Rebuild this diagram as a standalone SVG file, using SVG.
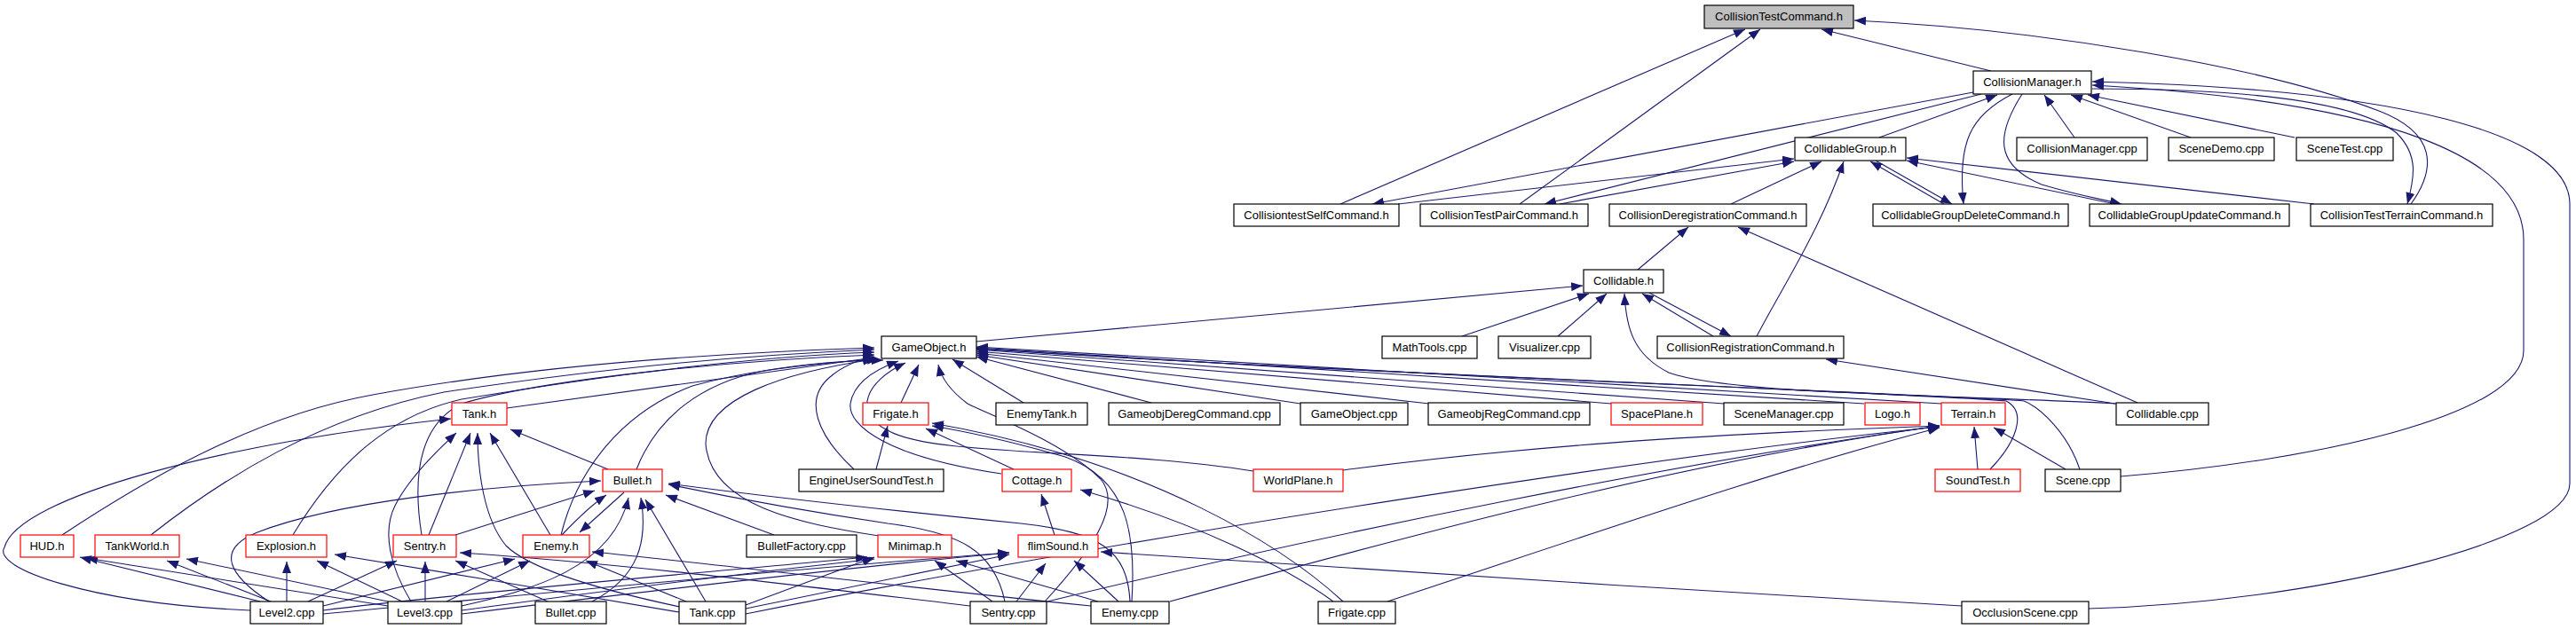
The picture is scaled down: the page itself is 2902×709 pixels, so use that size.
<svg xmlns="http://www.w3.org/2000/svg" width="2902" height="709" viewBox="0 0 2902 709">
<defs>
<marker id="a" viewBox="0 0 10 10" refX="10" refY="5" markerWidth="13" markerHeight="10" markerUnits="userSpaceOnUse" orient="auto" preserveAspectRatio="none"><path d="M0,0 L10,5 L0,10 z" fill="#191970"/></marker>
</defs>
<style>
.n rect{fill:#fff;stroke:#000;stroke-width:1.2}
.r rect{fill:#fff;stroke:#ff0000;stroke-width:1.2}
.g rect{fill:#bfbfbf;stroke:#000;stroke-width:1.2}
text{font-family:"Liberation Sans",Arial,sans-serif;font-size:13px;fill:#000;text-anchor:middle}
#edges path{fill:none;stroke:#191970;stroke-width:1.1;marker-end:url(#a)}
</style>
<rect width="2902" height="709" fill="#fff"/>
<g id="edges">
<path d="M1510,230 L1966,33"/>
<path d="M1712,230 L1983,33"/>
<path d="M2243,80 L2052,33"/>
<path d="M2716,230 C2745,190 2745,150 2680,125 C2550,75 2300,33 2089,23"/>
<path d="M2117,155 L2250,107"/>
<path d="M2337,155 L2303,107"/>
<path d="M2468,155 L2333,107"/>
<path d="M2585,155 L2352,107"/>
<path d="M2389,537 C2600,520 2843,470 2843,395 L2843,270 C2843,180 2700,115 2357,96"/>
<path d="M2353,686 C2600,680 2895,610 2895,545 L2895,230 C2895,150 2700,100 2357,92"/>
<path d="M2357,100 C2550,100 2660,118 2700,150 C2725,175 2720,200 2712,230"/>
<path d="M2223,104 L1546,230"/>
<path d="M2232,106 L1740,230"/>
<path d="M1575,230 L2021,179"/>
<path d="M1757,230 L2021,182"/>
<path d="M1950,230 L2052,182"/>
<path d="M1979,379 C2010,320 2050,260 2077,182"/>
<path d="M2190,230 L2107,182"/>
<path d="M2113,181 L2199,230"/>
<path d="M2267,106 C2220,130 2205,160 2212,230"/>
<path d="M2383,230 L2148,181"/>
<path d="M2607,230 L2148,178"/>
<path d="M2278,106 C2250,150 2245,185 2300,208 C2340,220 2370,225 2390,230"/>
<path d="M1845,304 L1902,256"/>
<path d="M2408,454 L1958,256"/>
<path d="M1100,385 L1783,322"/>
<path d="M1647,379 L1790,331"/>
<path d="M1755,379 L1810,331"/>
<path d="M2384,455 C2200,445 1950,445 1880,420 C1840,400 1832,370 1830,331"/>
<path d="M1930,379 L1850,331"/>
<path d="M1858,330 L1950,379"/>
<path d="M2383,455 L2057,405"/>
<path d="M1153,454 L1073,405"/>
<path d="M1297,454 L1100,402"/>
<path d="M1465,455 L1100,400"/>
<path d="M1610,455 L1100,398"/>
<path d="M1815,455 L1100,396"/>
<path d="M1942,455 L1100,394"/>
<path d="M2100,455 L1100,392"/>
<path d="M2187,455 L1100,391"/>
<path d="M2242,529 C2270,500 2285,465 2260,452 C2200,445 1500,420 1100,393"/>
<path d="M2343,529 C2330,490 2300,460 2280,452 C2200,445 1500,420 1100,393"/>
<path d="M70,603 C150,550 280,470 420,445 C600,412 800,398 985,392"/>
<path d="M170,603 C250,540 360,470 500,442 C700,412 850,400 985,394"/>
<path d="M330,603 C380,520 440,468 520,450 C700,420 850,402 985,397"/>
<path d="M475,603 C465,540 470,480 520,455 C620,425 850,405 985,400"/>
<path d="M571,460 L985,403"/>
<path d="M632,603 C650,530 700,465 780,435 C850,415 940,408 990,405"/>
<path d="M717,529 C740,470 790,432 860,418 C920,408 960,406 995,406"/>
<path d="M282,688 C100,680 -10,640 5,617 C20,560 250,500 508,472"/>
<path d="M1128,534 C1000,515 955,480 958,455 C962,430 990,415 1012,407"/>
<path d="M962,529 C920,490 905,450 935,425 C950,412 970,405 985,402"/>
<path d="M987,529 L1000,480"/>
<path d="M1015,454 L1035,411"/>
<path d="M1177,678 C1230,620 1265,570 1240,540 C1200,500 1120,470 1090,455 C1070,440 1060,425 1057,411"/>
<path d="M1412,531 C1250,505 1050,515 1000,485 C960,465 975,430 1020,409"/>
<path d="M990,604 C900,590 800,570 795,500 C795,450 880,420 985,405"/>
<path d="M483,603 L530,488"/>
<path d="M766,684 C700,670 600,645 570,615 C545,585 538,530 538,488"/>
<path d="M620,603 L552,488"/>
<path d="M685,529 L575,484"/>
<path d="M463,678 C440,640 430,600 445,570 C460,540 490,510 514,488"/>
<path d="M303,678 C260,650 240,620 290,600 C380,565 550,548 677,542"/>
<path d="M513,603 L670,553"/>
<path d="M633,603 C650,585 665,570 683,558"/>
<path d="M703,555 L653,600"/>
<path d="M520,683 C600,665 690,640 708,561"/>
<path d="M667,678 C720,650 730,610 722,561"/>
<path d="M795,678 L727,563"/>
<path d="M872,603 L750,558"/>
<path d="M1132,678 C1120,620 1080,600 1000,590 C900,575 820,560 753,546"/>
<path d="M1273,678 C1270,620 1240,600 1150,590 C1000,575 850,558 753,545"/>
<path d="M293,678 L90,628"/>
<path d="M437,683 L97,629"/>
<path d="M305,678 L188,632"/>
<path d="M437,678 L210,630"/>
<path d="M323,678 L323,633"/>
<path d="M453,678 L357,632"/>
<path d="M347,678 L447,632"/>
<path d="M479,678 L479,633"/>
<path d="M364,683 L580,630"/>
<path d="M503,678 L597,632"/>
<path d="M364,688 C500,670 800,645 977,628"/>
<path d="M520,688 C650,670 850,645 985,630"/>
<path d="M364,692 C600,670 900,640 1137,623"/>
<path d="M520,692 C700,670 950,640 1137,623"/>
<path d="M765,690 C650,670 500,645 377,625"/>
<path d="M1093,683 C900,660 700,635 518,623"/>
<path d="M617,678 L513,632"/>
<path d="M1229,683 C1000,660 800,635 667,622"/>
<path d="M773,678 L660,632"/>
<path d="M1118,678 L1053,632"/>
<path d="M1237,678 L1077,632"/>
<path d="M840,682 L985,628"/>
<path d="M840,686 L1137,625"/>
<path d="M840,692 C1300,600 1900,510 2185,481"/>
<path d="M1145,678 L1178,635"/>
<path d="M1260,678 L1210,632"/>
<path d="M2210,683 C1900,665 1500,640 1240,622"/>
<path d="M1188,603 L1173,557"/>
<path d="M1502,678 C1450,640 1350,590 1217,552"/>
<path d="M1513,678 C1450,620 1300,520 1050,477"/>
<path d="M1275,678 C1280,600 1270,540 1200,515 C1130,495 1080,485 1050,480"/>
<path d="M1142,529 L1043,483"/>
<path d="M1513,530 C1700,505 1900,490 2185,480"/>
<path d="M1563,678 C1800,600 2000,530 2185,482"/>
<path d="M1318,678 C1600,600 1900,520 2185,480"/>
<path d="M1180,678 C1500,600 1900,520 2185,480"/>
<path d="M2228,529 L2224,481"/>
<path d="M2327,529 L2246,482"/>
</g>
<g id="n_ctc" class="g"><rect x="1920" y="6" width="168" height="26"/><text x="2004" y="23">CollisionTestCommand.h</text></g>
<g id="n_cm" class="n"><rect x="2223" y="80" width="133" height="26"/><text x="2289.5" y="97">CollisionManager.h</text></g>
<g id="n_cg" class="n"><rect x="2022" y="155" width="125" height="26"/><text x="2084.5" y="172">CollidableGroup.h</text></g>
<g id="n_cmcpp" class="n"><rect x="2272" y="155" width="147" height="26"/><text x="2345.5" y="172">CollisionManager.cpp</text></g>
<g id="n_scenedemo" class="n"><rect x="2443" y="155" width="119" height="26"/><text x="2502.5" y="172">SceneDemo.cpp</text></g>
<g id="n_scenetest" class="n"><rect x="2587" y="155" width="109" height="26"/><text x="2641.5" y="172">SceneTest.cpp</text></g>
<g id="n_self" class="n"><rect x="1390" y="230" width="186" height="25"/><text x="1483" y="247">CollisiontestSelfCommand.h</text></g>
<g id="n_pair" class="n"><rect x="1600" y="230" width="189" height="25"/><text x="1694.5" y="247">CollisionTestPairCommand.h</text></g>
<g id="n_dereg" class="n"><rect x="1813" y="230" width="222" height="25"/><text x="1924" y="247">CollisionDeregistrationCommand.h</text></g>
<g id="n_delete" class="n"><rect x="2110" y="230" width="220" height="25"/><text x="2220" y="247">CollidableGroupDeleteCommand.h</text></g>
<g id="n_update" class="n"><rect x="2354" y="230" width="225" height="25"/><text x="2466.5" y="247">CollidableGroupUpdateCommand.h</text></g>
<g id="n_terraincmd" class="n"><rect x="2603" y="230" width="205" height="25"/><text x="2705.5" y="247">CollisionTestTerrainCommand.h</text></g>
<g id="n_collidable" class="n"><rect x="1784" y="304" width="90" height="26"/><text x="1829" y="321">Collidable.h</text></g>
<g id="n_mathtools" class="n"><rect x="1557" y="379" width="107" height="25"/><text x="1610.5" y="396">MathTools.cpp</text></g>
<g id="n_visualizer" class="n"><rect x="1688" y="379" width="104" height="25"/><text x="1740" y="396">Visualizer.cpp</text></g>
<g id="n_reg" class="n"><rect x="1867" y="379" width="210" height="25"/><text x="1972" y="396">CollisionRegistrationCommand.h</text></g>
<g id="n_gameobject" class="n"><rect x="993" y="379" width="107" height="25"/><text x="1046.5" y="396">GameObject.h</text></g>
<g id="n_tankh" class="r"><rect x="509" y="454" width="62" height="25"/><text x="540" y="471">Tank.h</text></g>
<g id="n_frigateh" class="r"><rect x="972" y="454" width="74" height="25"/><text x="1009" y="471">Frigate.h</text></g>
<g id="n_enemytank" class="n"><rect x="1122" y="454" width="103" height="25"/><text x="1173.5" y="471">EnemyTank.h</text></g>
<g id="n_goderegcpp" class="n"><rect x="1249" y="454" width="193" height="25"/><text x="1345.5" y="471">GameobjDeregCommand.cpp</text></g>
<g id="n_gocpp" class="n"><rect x="1465" y="454" width="121" height="25"/><text x="1525.5" y="471">GameObject.cpp</text></g>
<g id="n_goregcpp" class="n"><rect x="1609" y="454" width="182" height="25"/><text x="1700" y="471">GameobjRegCommand.cpp</text></g>
<g id="n_spaceplane" class="r"><rect x="1815" y="454" width="103" height="25"/><text x="1866.5" y="471">SpacePlane.h</text></g>
<g id="n_scenemgr" class="n"><rect x="1942" y="454" width="135" height="25"/><text x="2009.5" y="471">SceneManager.cpp</text></g>
<g id="n_logo" class="r"><rect x="2101" y="454" width="62" height="25"/><text x="2132" y="471">Logo.h</text></g>
<g id="n_terrain" class="r"><rect x="2187" y="454" width="72" height="25"/><text x="2223" y="471">Terrain.h</text></g>
<g id="n_collidablecpp" class="n"><rect x="2384" y="454" width="104" height="25"/><text x="2436" y="471">Collidable.cpp</text></g>
<g id="n_eust" class="n"><rect x="900" y="529" width="163" height="25"/><text x="981.5" y="546">EngineUserSoundTest.h</text></g>
<g id="n_bulleth" class="r"><rect x="679" y="529" width="67" height="25"/><text x="712.5" y="546">Bullet.h</text></g>
<g id="n_cottage" class="r"><rect x="1129" y="529" width="78" height="25"/><text x="1168" y="546">Cottage.h</text></g>
<g id="n_worldplane" class="r"><rect x="1412" y="529" width="101" height="25"/><text x="1462.5" y="546">WorldPlane.h</text></g>
<g id="n_soundtest" class="r"><rect x="2180" y="529" width="96" height="25"/><text x="2228" y="546">SoundTest.h</text></g>
<g id="n_scenecpp" class="n"><rect x="2304" y="529" width="85" height="25"/><text x="2346.5" y="546">Scene.cpp</text></g>
<g id="n_hud" class="r"><rect x="23" y="603" width="60" height="25"/><text x="53" y="620">HUD.h</text></g>
<g id="n_tankworld" class="r"><rect x="107" y="603" width="95" height="25"/><text x="154.5" y="620">TankWorld.h</text></g>
<g id="n_explosion" class="r"><rect x="277" y="603" width="91" height="25"/><text x="322.5" y="620">Explosion.h</text></g>
<g id="n_sentryh" class="r"><rect x="443" y="603" width="71" height="25"/><text x="478.5" y="620">Sentry.h</text></g>
<g id="n_enemyh" class="r"><rect x="589" y="603" width="75" height="25"/><text x="626.5" y="620">Enemy.h</text></g>
<g id="n_bulletfactory" class="n"><rect x="841" y="603" width="124" height="25"/><text x="903" y="620">BulletFactory.cpp</text></g>
<g id="n_minimap" class="r"><rect x="989" y="603" width="83" height="25"/><text x="1030.5" y="620">Minimap.h</text></g>
<g id="n_flimsound" class="r"><rect x="1147" y="603" width="90" height="25"/><text x="1192" y="620">flimSound.h</text></g>
<g id="n_level2" class="n"><rect x="282" y="678" width="82" height="25"/><text x="323" y="695">Level2.cpp</text></g>
<g id="n_level3" class="n"><rect x="437" y="678" width="83" height="25"/><text x="478.5" y="695">Level3.cpp</text></g>
<g id="n_bulletcpp" class="n"><rect x="603" y="678" width="80" height="25"/><text x="643" y="695">Bullet.cpp</text></g>
<g id="n_tankcpp" class="n"><rect x="765" y="678" width="75" height="25"/><text x="802.5" y="695">Tank.cpp</text></g>
<g id="n_sentrycpp" class="n"><rect x="1093" y="678" width="86" height="25"/><text x="1136" y="695">Sentry.cpp</text></g>
<g id="n_enemycpp" class="n"><rect x="1229" y="678" width="88" height="25"/><text x="1273" y="695">Enemy.cpp</text></g>
<g id="n_frigatecpp" class="n"><rect x="1485" y="678" width="87" height="25"/><text x="1528.5" y="695">Frigate.cpp</text></g>
<g id="n_occlusion" class="n"><rect x="2210" y="678" width="143" height="25"/><text x="2281.5" y="695">OcclusionScene.cpp</text></g>
</svg>
